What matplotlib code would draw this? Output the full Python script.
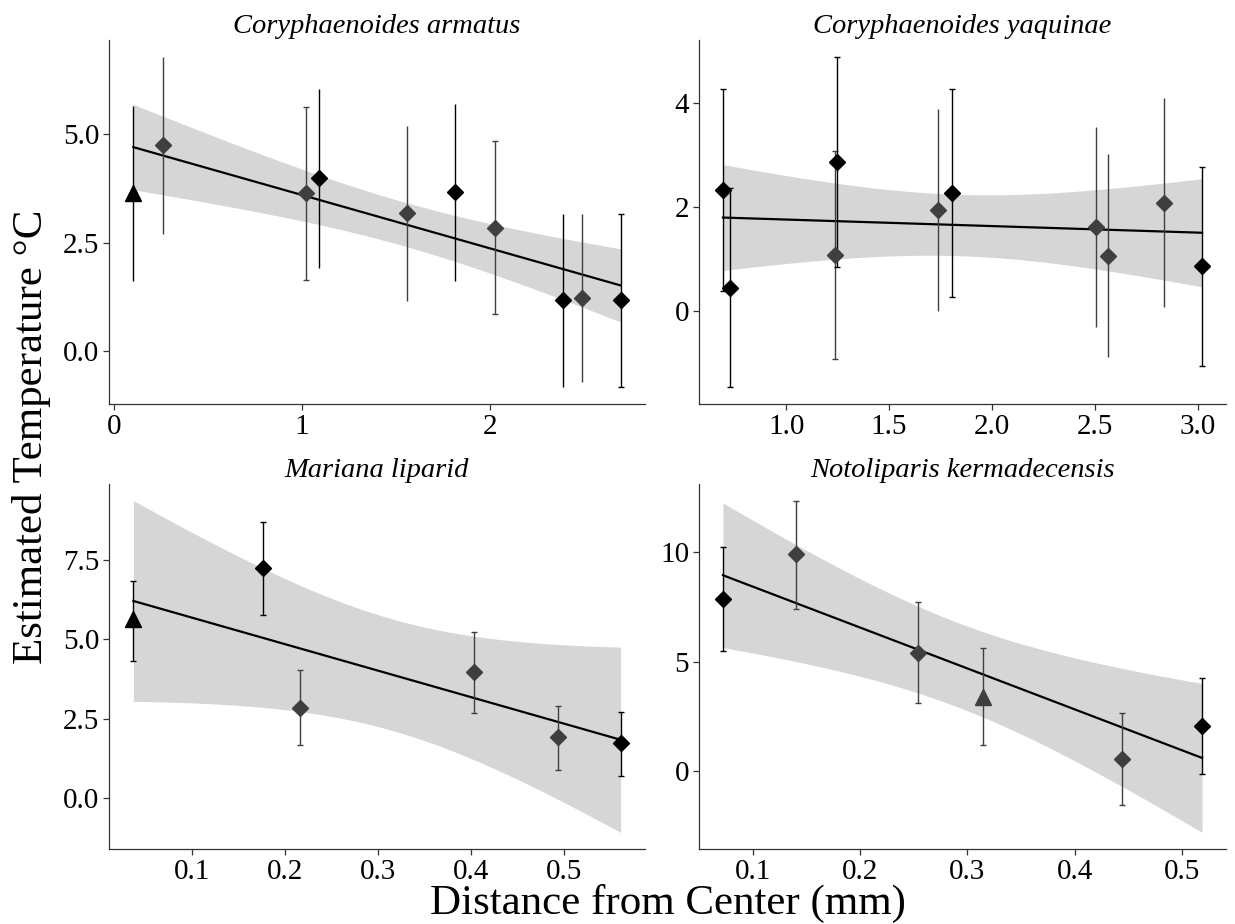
import numpy as np
import matplotlib
matplotlib.use("Agg")
import matplotlib.pyplot as plt

plt.rcParams['font.family'] = ['Liberation Serif', 'DejaVu Serif']

# ---------------- data ----------------
titles = ["Coryphaenoides armatus", "Coryphaenoides yaquinae",
          "Mariana liparid", "Notoliparis kermadecensis"]

# Coryphaenoides armatus
ca_x = [0.104, 0.262, 1.021, 1.093, 1.558, 1.814, 2.027, 2.387, 2.491, 2.696]
ca_y = [3.64, 4.75, 3.64, 4.00, 3.18, 3.67, 2.85, 1.19, 1.22, 1.19]
ca_lo = [1.63, 2.71, 1.64, 1.92, 1.17, 1.63, 0.87, -0.83, -0.71, -0.83]
ca_hi = [5.64, 6.79, 5.63, 6.04, 5.19, 5.69, 4.85, 3.17, 3.17, 3.17]
ca_tri = [1, 0, 0, 0, 0, 0, 0, 0, 0, 0]
ca_dark = [1, 0, 0, 1, 0, 1, 0, 1, 0, 1]
ca_cap = [0, 0, 1, 0, 0, 0, 1, 0, 0, 1]

# Coryphaenoides yaquinae
cy_x = [0.693, 0.728, 1.236, 1.248, 1.736, 1.806, 2.504, 2.562, 2.832, 3.019]
cy_y = [2.34, 0.46, 1.08, 2.88, 1.95, 2.27, 1.62, 1.06, 2.08, 0.88]
cy_lo = [0.40, -1.46, -0.92, 0.86, 0.00, 0.28, -0.29, -0.88, 0.08, -1.04]
cy_hi = [4.28, 2.38, 3.08, 4.90, 3.89, 4.28, 3.55, 3.03, 4.10, 2.77]
cy_tri = [0, 0, 0, 0, 0, 0, 0, 0, 0, 0]
cy_dark = [1, 1, 0, 1, 0, 1, 0, 0, 0, 1]
cy_cap = [1, 1, 1, 1, 0, 1, 0, 0, 0, 1]

# Mariana liparid
ml_x = [0.0365, 0.176, 0.216, 0.4036, 0.494, 0.561]
ml_y = [5.64, 7.26, 2.84, 3.97, 1.91, 1.73]
ml_lo = [4.31, 5.77, 1.66, 2.68, 0.87, 0.69]
ml_hi = [6.83, 8.72, 4.05, 5.24, 2.91, 2.72]
ml_tri = [1, 0, 0, 0, 0, 0]
ml_dark = [1, 1, 0, 0, 0, 1]
ml_cap = [1, 1, 1, 1, 1, 1]

# Notoliparis kermadecensis
nk_x = [0.0722, 0.140, 0.2536, 0.3146, 0.4444, 0.5186]
nk_y = [7.85, 9.95, 5.37, 3.38, 0.54, 2.06]
nk_lo = [5.49, 7.42, 3.08, 1.15, -1.58, -0.17]
nk_hi = [10.26, 12.38, 7.72, 5.60, 2.65, 4.26]
nk_tri = [0, 0, 0, 1, 0, 0]
nk_dark = [1, 0, 0, 0, 0, 1]
nk_cap = [1, 1, 1, 1, 1, 1]

xticks = [[0, 1, 2], [1.0, 1.5, 2.0, 2.5, 3.0],
          [0.1, 0.2, 0.3, 0.4, 0.5], [0.1, 0.2, 0.3, 0.4, 0.5]]
xticklabels = [["0", "1", "2"], ["1.0", "1.5", "2.0", "2.5", "3.0"],
               ["0.1", "0.2", "0.3", "0.4", "0.5"], ["0.1", "0.2", "0.3", "0.4", "0.5"]]
yticks = [[0.0, 2.5, 5.0], [0, 2, 4], [0.0, 2.5, 5.0, 7.5], [0, 5, 10]]
yticklabels = [["0.0", "2.5", "5.0"], ["0", "2", "4"],
               ["0.0", "2.5", "5.0", "7.5"], ["0", "5", "10"]]

# 97.5% t quantiles by residual degrees of freedom (95% CI, as geom_smooth)
t975 = {4: 2.776, 8: 2.306}

panels = [
    (ca_x, ca_y, ca_lo, ca_hi, ca_tri, ca_dark, ca_cap),
    (cy_x, cy_y, cy_lo, cy_hi, cy_tri, cy_dark, cy_cap),
    (ml_x, ml_y, ml_lo, ml_hi, ml_tri, ml_dark, ml_cap),
    (nk_x, nk_y, nk_lo, nk_hi, nk_tri, nk_dark, nk_cap),
]

# ---------------- layout ----------------
W, H = 1235, 924
fig = plt.figure(figsize=(W / 100, H / 100), dpi=100)
boxes = [(109, 645, 40, 404), (699, 1226, 40, 404),
         (109, 645, 484, 849), (699, 1226, 484, 849)]

DARK = "#000000"
GREY = "#3f3f3f"


def ols_band(x, y, grid):
    x = np.asarray(x, float)
    y = np.asarray(y, float)
    n = len(x)
    X = np.column_stack([np.ones(n), x])
    beta, *_ = np.linalg.lstsq(X, y, rcond=None)
    resid = y - X @ beta
    df = n - 2
    s2 = resid @ resid / df
    XtXi = np.linalg.inv(X.T @ X)
    G = np.column_stack([np.ones(len(grid)), grid])
    fit = G @ beta
    se = np.sqrt(np.einsum('ij,jk,ik->i', G, XtXi, G) * s2)
    t = t975[df]
    return fit, fit - t * se, fit + t * se


for i, (px, py, plo, phi, ptri, pdark, pcap) in enumerate(panels):
    x0, x1, yt, yb = boxes[i]
    ax = fig.add_axes([x0 / W, 1 - yb / H, (x1 - x0) / W, (yb - yt) / H])
    grid = np.linspace(min(px), max(px), 80)
    fit, lo, hi = ols_band(px, py, grid)
    ax.fill_between(grid, lo, hi, color="#d6d6d6", lw=0, zorder=1)
    ax.plot(grid, fit, color="black", lw=1.6, zorder=2)
    for j in range(len(px)):
        c = DARK if pdark[j] else GREY
        ax.errorbar([px[j]], [py[j]],
                    yerr=[[py[j] - plo[j]], [phi[j] - py[j]]],
                    fmt='none', ecolor=c, elinewidth=1.0,
                    capsize=2.2 if pcap[j] else 0, capthick=1.0, zorder=3)
        if ptri[j]:
            ax.plot(px[j], py[j], marker='^', ms=12, color=c, mec=c, zorder=4, ls='none')
        else:
            ax.plot(px[j], py[j], marker='D', ms=8, color=c, mec=c, zorder=4, ls='none')
    # ggplot-like limits with 5% expansion
    allx = np.array(px, float)
    ally = np.concatenate([py, plo, phi, lo, hi])
    dx = allx.max() - allx.min()
    dy = ally.max() - ally.min()
    ax.set_xlim(allx.min() - 0.05 * dx, allx.max() + 0.05 * dx)
    ax.set_ylim(ally.min() - 0.05 * dy, ally.max() + 0.05 * dy)
    ax.set_xticks(xticks[i])
    ax.set_xticklabels(xticklabels[i])
    ax.set_yticks(yticks[i])
    ax.set_yticklabels(yticklabels[i])
    for s in ['top', 'right']:
        ax.spines[s].set_visible(False)
    for s in ['left', 'bottom']:
        ax.spines[s].set_linewidth(0.9)
        ax.spines[s].set_color('#333333')
    ax.tick_params(direction='out', length=4, width=0.9, color='#333333',
                   labelsize=21, labelcolor='black', pad=3)
    ax.set_title(titles[i], fontstyle='italic', fontsize=20.5, pad=5)

fig.text(32 / W, 1 - 437 / H, "Estimated Temperature \u00b0C", rotation=90,
         ha='center', va='center', fontsize=31)
fig.text(668 / W, 1 - 903 / H, "Distance from Center (mm)",
         ha='center', va='center', fontsize=31)

fig.savefig("out.png", dpi=100)
